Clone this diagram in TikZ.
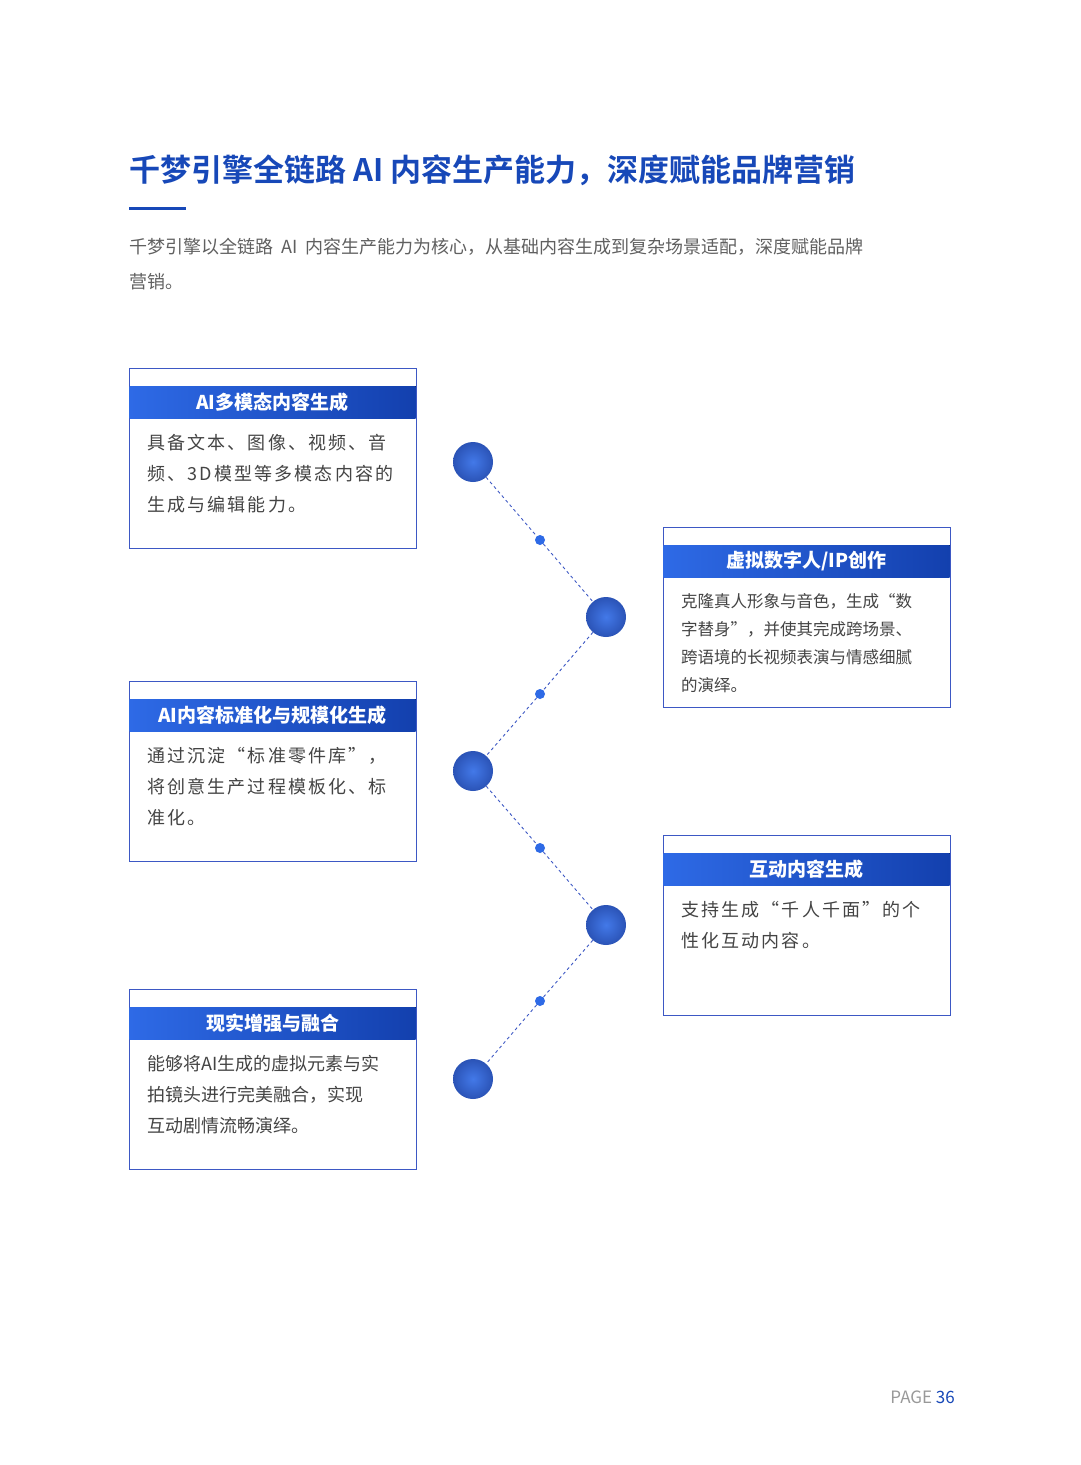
\documentclass[tikz,border=0pt]{standalone}
\usepackage{fontspec}
\setmainfont{Noto Sans CJK SC}
\newfontfamily\cjk{Noto Sans CJK SC}
\newfontfamily\cjkw[LetterSpace=12]{Noto Sans CJK SC}
\newfontfamily\cjkb[BoldFont={* Bold}]{Noto Sans CJK SC}
\definecolor{tblue}{HTML}{1748B8}
\definecolor{bord}{HTML}{3D58C4}
\definecolor{hA}{HTML}{2E6AE6}
\definecolor{hB}{HTML}{1340AE}
\definecolor{txt}{HTML}{444444}
\usetikzlibrary{calc}
\begin{document}
\begin{tikzpicture}[x=1pt,y=-1pt,
  card/.style={draw=bord,line width=1pt,fill=white},
  hdr/.style={left color=hA,right color=hB},
  htext/.style={text=white,font=\cjk\fontsize{19}{22}\selectfont\bfseries,anchor=center},
  btext/.style={text=txt,anchor=north west,align=left},
  bigdot/.style={circle,minimum size=40pt,inner sep=0pt,ball color=hA,shading=radial,inner color=hA!90,outer color=hB!90},
  smalldot/.style={circle,fill=hA,minimum size=10pt,inner sep=0pt},
  link/.style={draw=bord,dashed,line width=0.9pt}]
\useasboundingbox (0,0) rectangle (1080,1465);
\fill[white] (0,0) rectangle (1080,1465);
% title
\node[anchor=west,text=tblue,font=\cjkb\fontsize{31}{36}\selectfont\bfseries,inner sep=0] (title) at (129,170) {千梦引擎全链路 AI 内容生产能力，深度赋能品牌营销};
\fill[tblue] (129,206.5) rectangle (186,209.5);
\node[anchor=north west,text=txt!85,font=\cjk\fontsize{18}{35}\selectfont,align=left,inner sep=0] (intro) at (129,238) {千梦引擎以全链路 \ AI \ 内容生产能力为核心，从基础内容生成到复杂场景适配，深度赋能品牌\\营销。};
% cards
\newcommand{\card}[6]{%
 \draw[card] (#1,#2) rectangle ++(287,180);
 \fill[hdr] (#1+0.5,#2+18) rectangle ++(286,32);
 \node[htext] (#3) at (#1+143.5,#2+34) {#4};
 \node[btext,font=#5,inner sep=0] (#3b) at (#1+18,#2+66) {#6};}
\card{129}{368}{c1}{AI多模态内容生成}{\cjkw\fontsize{18}{31}\selectfont}{具备文本、图像、视频、音\\频、3D模型等多模态内容的\\生成与编辑能力。}
\card{663}{527}{c2}{虚拟数字人/IP创作}{\cjk\fontsize{16.5}{28}\selectfont}{克隆真人形象与音色，生成“数\\字替身”，并使其完成跨场景、\\跨语境的长视频表演与情感细腻\\的演绎。}
\card{129}{681}{c3}{AI内容标准化与规模化生成}{\cjkw\fontsize{18}{31}\selectfont}{通过沉淀“标准零件库”，\\将创意生产过程模板化、标\\准化。}
\card{663}{835}{c4}{互动内容生成}{\cjkw\fontsize{18}{31}\selectfont}{支持生成“千人千面”的个\\性化互动内容。}
\card{129}{989}{c5}{现实增强与融合}{\cjk\fontsize{18}{31}\selectfont}{能够将AI生成的虚拟元素与实\\拍镜头进行完美融合，实现\\互动剧情流畅演绎。}
% dots
\node[bigdot] (d1) at (473,462) {};
\node[bigdot] (d2) at (606,617) {};
\node[bigdot] (d3) at (473,771) {};
\node[bigdot] (d4) at (606,925) {};
\node[bigdot] (d5) at (473,1079) {};
\node[smalldot] (s1) at (540,540) {};
\node[smalldot] (s2) at (540,694) {};
\node[smalldot] (s3) at (540,848) {};
\node[smalldot] (s4) at (540,1001) {};
\path[link] (d1) -- (s1) -- (d2) (d2) -- (s2) -- (d3) (d3) -- (s3) -- (d4) (d4) -- (s4) -- (d5);
\node[anchor=east,font=\cjk\fontsize{17}{20}\selectfont,inner sep=0] (page) at (955,1397) {\textcolor{gray!80}{PAGE} \textcolor{tblue}{36}};
\end{tikzpicture}
\end{document}
